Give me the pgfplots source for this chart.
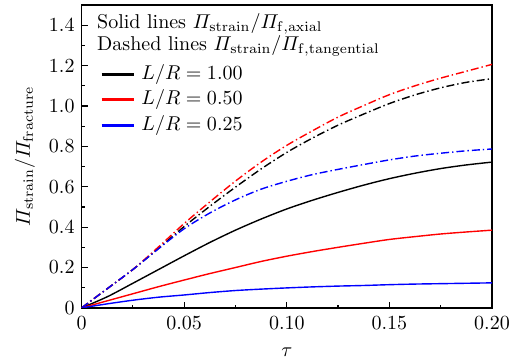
\documentclass[border=0pt]{standalone}
\usepackage{amsmath}
\usepackage{pgfplots}
\pgfplotsset{compat=1.18}
\pgfplotstableread{
t   bs     rs     us     bd     rd     ud
0      0      0      0      0      0      0
0.0125 0.055  0.035  0.020  0.095  0.095  0.095
0.025  0.122  0.070  0.038  0.190  0.190  0.190
0.0375 0.190  0.105  0.053  0.295  0.302  0.293
0.05   0.258  0.138  0.064  0.403  0.418  0.392
0.0625 0.324  0.170  0.076  0.503  0.525  0.470
0.075  0.385  0.200  0.086  0.598  0.628  0.535
0.0875 0.440  0.230  0.093  0.688  0.722  0.588
0.1    0.490  0.256  0.099  0.770  0.805  0.627
0.1125 0.533  0.279  0.104  0.841  0.877  0.660
0.125  0.572  0.300  0.108  0.905  0.945  0.686
0.1375 0.608  0.320  0.111  0.960  1.002  0.710
0.15   0.640  0.339  0.115  1.012  1.056  0.733
0.1625 0.667  0.353  0.118  1.055  1.100  0.752
0.175  0.690  0.366  0.120  1.090  1.138  0.766
0.1875 0.708  0.376  0.122  1.117  1.172  0.778
0.2    0.722  0.385  0.124  1.135  1.206  0.787
}\datatable
\begin{document}
\begin{tikzpicture}
\begin{axis}[
  name=ax,
  width=205.3pt, height=151.5pt, scale only axis,
  xmin=0, xmax=0.2, ymin=0, ymax=1.5,
  xtick={0,0.05,0.1,0.15,0.2},
  xticklabels={0,0.05,0.10,0.15,0.20},
  ytick={0,0.2,0.4,0.6,0.8,1.0,1.2,1.4},
  yticklabels={0,0.2,0.4,0.6,0.8,1.0,1.2,1.4},
  minor x tick num=1, minor y tick num=1,
  tick pos=left, tick align=inside,
  major tick length=3pt, minor tick length=1.6pt,
  axis line style={line width=0.8pt},
  every tick/.style={line width=0.6pt, black},
  xticklabel style={yshift=-0.8pt},
  xlabel={$\tau$}, ylabel={$\varPi_{\mathrm{strain}}/\varPi_{\mathrm{fracture}}$},
  xlabel style={at={(axis description cs:0.5,-0.145)}, anchor=center},
  ylabel style={at={(axis description cs:-0.138,0.5)}, anchor=center},
  legend style={at={(rel axis cs:0.044,0.809)}, anchor=north west, draw=none, fill=none,
     inner sep=0pt, row sep=1.75pt, column sep=2.5pt,
     nodes={inner sep=0.5pt, text height=7.5pt, text depth=2.5pt}},
  legend cell align=left,
  legend image code/.code={\draw[#1, line width=1.7pt] (0pt,0pt) -- (16pt,0pt);},
]
\addlegendimage{black}\addlegendentry{$L/R=1.00$}
\addlegendimage{red}\addlegendentry{$L/R=0.50$}
\addlegendimage{blue}\addlegendentry{$L/R=0.25$}
\addplot[black, line width=0.7pt, smooth, forget plot] table[x=t,y=bs]{\datatable};
\addplot[red, line width=0.7pt, smooth, forget plot] table[x=t,y=rs]{\datatable};
\addplot[blue, line width=0.7pt, smooth, forget plot] table[x=t,y=us]{\datatable};
\addplot[black, line width=0.7pt, smooth, forget plot, dash pattern=on 4pt off 1.5pt on 0.7pt off 1.5pt] table[x=t,y=bd]{\datatable};
\addplot[red, line width=0.7pt, smooth, forget plot, dash pattern=on 4pt off 1.5pt on 0.7pt off 1.5pt] table[x=t,y=rd]{\datatable};
\addplot[blue, line width=0.7pt, smooth, forget plot, dash pattern=on 4pt off 1.5pt on 0.7pt off 1.5pt] table[x=t,y=ud]{\datatable};
\node[anchor=base west, inner sep=0pt] at (rel axis cs:0.037,0.922) {Solid lines $\varPi_{\mathrm{strain}}/\varPi_{\mathrm{f,axial}}$};
\node[anchor=base west, inner sep=0pt] at (rel axis cs:0.037,0.850) {Dashed lines $\varPi_{\mathrm{strain}}/\varPi_{\mathrm{f,tangential}}$};
\end{axis}
\path[use as bounding box] ([xshift=-40.8pt,yshift=-26.3pt]ax.south west) rectangle ([xshift=18.5pt,yshift=2.5pt]ax.north east);
\end{tikzpicture}
\end{document}
